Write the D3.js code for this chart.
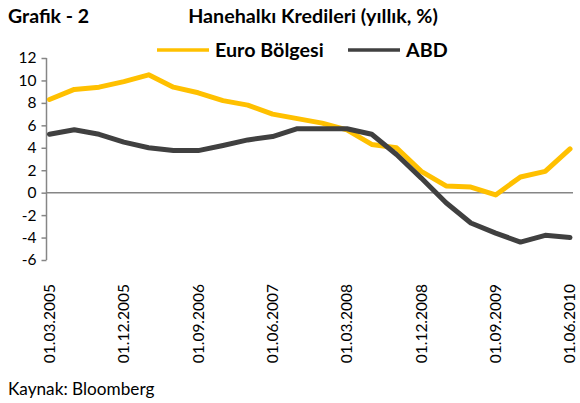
<!DOCTYPE html>
<html>
<head>
<meta charset="utf-8">
<script src="https://cdn.jsdelivr.net/npm/d3@7"></script>
<style>
  html, body { margin: 0; padding: 0; background: #fff; }
  svg { display: block; font-family: Lato, "Open Sans", sans-serif; }
</style>
</head>
<body>
<script>
// Quarterly dates, 2005 Q1 .. 2010 Q2
const dates = [
  "01.03.2005", "01.06.2005", "01.09.2005", "01.12.2005",
  "01.03.2006", "01.06.2006", "01.09.2006", "01.12.2006",
  "01.03.2007", "01.06.2007", "01.09.2007", "01.12.2007",
  "01.03.2008", "01.06.2008", "01.09.2008", "01.12.2008",
  "01.03.2009", "01.06.2009", "01.09.2009", "01.12.2009",
  "01.03.2010", "01.06.2010"
];
const euroBolgesi = [8.3, 9.2, 9.4, 9.9, 10.5, 9.4, 8.9, 8.2, 7.8, 7.0, 6.6, 6.2,
  5.6, 4.3, 4.0, 1.9, 0.6, 0.5, -0.2, 1.4, 1.9, 3.9];
const abd = [5.2, 5.6, 5.2, 4.5, 4.0, 3.75, 3.75, 4.2, 4.7, 5.0, 5.7, 5.7,
  5.7, 5.2, 3.4, 1.3, -0.9, -2.7, -3.6, -4.4, -3.8, -4.0];
const yTicks = [-6, -4, -2, 0, 2, 4, 6, 8, 10, 12];
const xTickLabels = dates.filter((d, i) => i % 3 === 0);

const series = [
  { name: "Euro Bölgesi", values: euroBolgesi, color: "#FFC000" },
  { name: "ABD", values: abd, color: "#404040" }
];

const width = 580, height = 403;

const svg = d3.select("body").append("svg")
  .attr("width", width)
  .attr("height", height);

const x = d3.scalePoint().domain(dates).range([49.5, 570]);
const y = d3.scaleLinear().domain([-6, 12]).range([260, 58]);

// Titles
svg.append("text")
  .attr("x", 8).attr("y", 23)
  .attr("font-size", 19.5).attr("font-weight", "bold")
  .text("Grafik - 2");

svg.append("text")
  .attr("x", 313).attr("y", 23)
  .attr("text-anchor", "middle")
  .attr("font-size", 19.7).attr("font-weight", "bold")
  .text("Hanehalkı Kredileri (yıllık, %)");

// Legend
const legendPos = [{ x0: 157, x1: 209 }, { x0: 348, x1: 400 }];
const legend = svg.append("g");
series.forEach((s, i) => {
  const p = legendPos[i];
  legend.append("line")
    .attr("x1", p.x0).attr("x2", p.x1)
    .attr("y1", 50).attr("y2", 50)
    .attr("stroke", s.color).attr("stroke-width", 3.5);
  legend.append("text")
    .attr("x", p.x1 + 6).attr("y", 57)
    .attr("font-size", 19.7).attr("font-weight", "bold")
    .text(s.name);
});

// Y axis
const yAxis = svg.append("g")
  .attr("transform", "translate(46.5,0)")
  .call(d3.axisLeft(y).tickValues(yTicks).tickSize(5).tickPadding(5).tickFormat(d3.format("d")));
yAxis.select(".domain").attr("stroke", "#868686").attr("stroke-width", 1.5)
  .attr("d", `M0,${y(-6)}V${y(12)}`);
yAxis.selectAll(".tick line").attr("stroke", "#868686").attr("stroke-width", 1.5);
yAxis.selectAll(".tick text")
  .attr("font-size", 15.5).attr("font-family", "Lato, sans-serif").attr("fill", "#000")
  .text(d => d < 0 ? "-" + Math.abs(d) : d);

// Zero line (category axis)
svg.append("line")
  .attr("x1", 46).attr("x2", 573)
  .attr("y1", y(0)).attr("y2", y(0))
  .attr("stroke", "#868686").attr("stroke-width", 1.5);

// X labels (rotated)
svg.append("g").selectAll("text")
  .data(xTickLabels)
  .join("text")
  .attr("transform", d => `translate(${x(d)},284) rotate(-90)`)
  .attr("text-anchor", "end")
  .attr("dy", "0.35em")
  .attr("font-size", 15.5)
  .text(d => d);

// Lines
const line = d3.line()
  .x((d, i) => x(dates[i]))
  .y(d => y(d));

svg.append("g").selectAll("path")
  .data(series)
  .join("path")
  .attr("fill", "none")
  .attr("stroke", d => d.color)
  .attr("stroke-width", 5)
  .attr("stroke-linejoin", "round")
  .attr("stroke-linecap", "round")
  .attr("d", d => line(d.values));

// Source
svg.append("text")
  .attr("x", 8).attr("y", 395)
  .attr("font-size", 17.2)
  .text("Kaynak: Bloomberg");
</script>
</body>
</html>
